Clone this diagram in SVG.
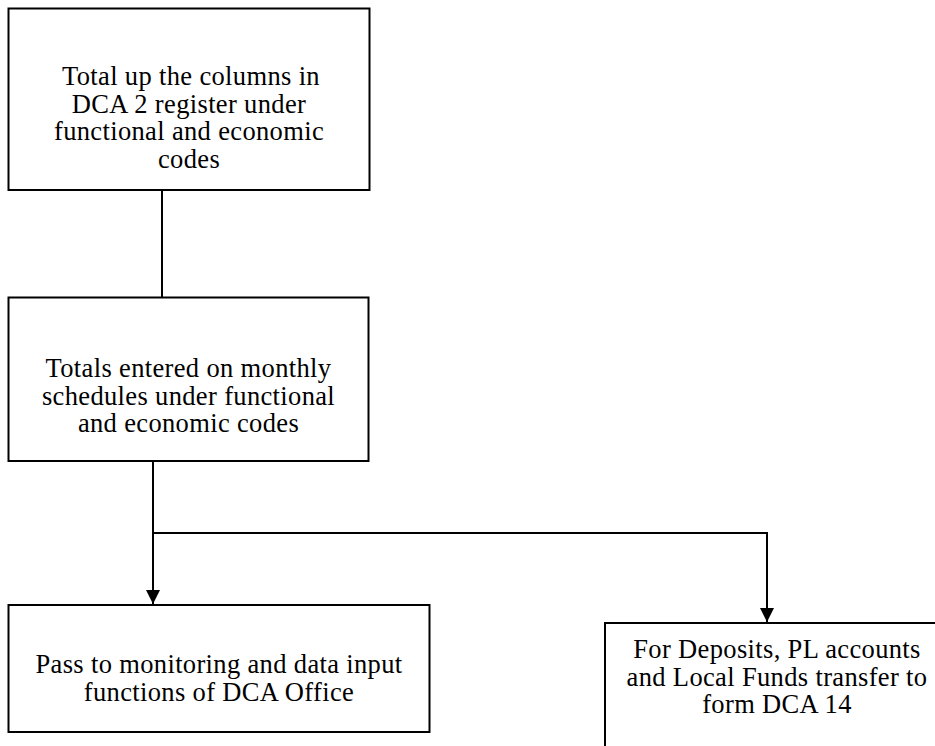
<svg xmlns="http://www.w3.org/2000/svg" width="935" height="746" viewBox="0 0 935 746">
  <style>
    .box { fill: #ffffff; stroke: #000000; stroke-width: 2; }
    .wire { fill: none; stroke: #000000; stroke-width: 2; }
    text { font-family: 'Liberation Serif', 'Times New Roman', Times, serif; font-size: 26.5px; letter-spacing: 0.35px; fill: #000000; text-anchor: middle; }
  </style>
  <defs>
    <marker id="arrow" markerUnits="userSpaceOnUse" markerWidth="14" markerHeight="16" refX="14" refY="7" orient="auto">
      <path d="M0,0 L14,7 L0,14 Z" fill="#000000"/>
    </marker>
  </defs>
  <rect width="935" height="746" fill="#ffffff"/>

  <g id="connectors">
    <line class="wire" x1="162" y1="190" x2="162" y2="297.5"/>
    <line class="wire" x1="153" y1="461" x2="153" y2="604" marker-end="url(#arrow)"/>
    <line class="wire" x1="152" y1="533" x2="768" y2="533"/>
    <line class="wire" x1="767" y1="533" x2="767" y2="622" marker-end="url(#arrow)"/>
  </g>

  <g id="total-columns">
    <rect class="box" x="8.5" y="8.5" width="361" height="181.5"/>
    <text x="191" y="85">Total up the columns in</text>
    <text x="189" y="112.5">DCA 2 register under</text>
    <text x="189" y="140">functional and economic</text>
    <text x="189" y="167.5">codes</text>
  </g>

  <g id="monthly-schedules">
    <rect class="box" x="8.5" y="297.5" width="360" height="163.5"/>
    <text x="188.5" y="377">Totals entered on monthly</text>
    <text x="188.5" y="404.5">schedules under functional</text>
    <text x="188.5" y="432">and economic codes</text>
  </g>

  <g id="monitoring">
    <rect class="box" x="8.5" y="605" width="421" height="127"/>
    <text x="219" y="673">Pass to monitoring and data input</text>
    <text x="219" y="700.5">functions of DCA Office</text>
  </g>

  <g id="dca14">
    <rect class="box" x="605" y="623" width="345" height="140"/>
    <text x="777" y="658">For Deposits, PL accounts</text>
    <text x="777" y="685.5">and Local Funds transfer to</text>
    <text x="777" y="713">form DCA 14</text>
  </g>
</svg>
